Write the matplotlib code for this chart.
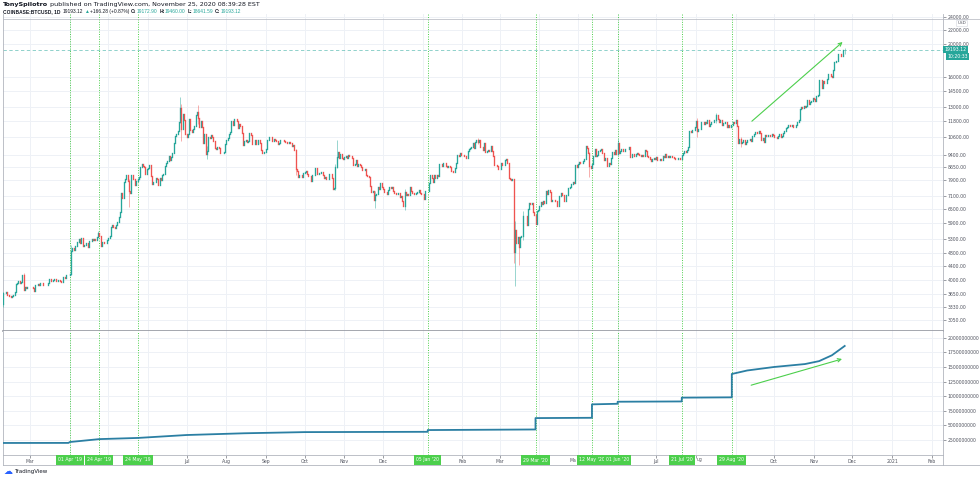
import numpy as np
import pandas as pd
import matplotlib
matplotlib.use('Agg')
import matplotlib.pyplot as plt
import matplotlib.dates as mdates
from matplotlib import font_manager
from matplotlib.ticker import FixedLocator, NullLocator, FuncFormatter
from matplotlib.transforms import blended_transform_factory
from matplotlib.lines import Line2D

plt.rcParams['font.family'] = ['DejaVu Sans']

# COINBASE:BTCUSD daily closes (open = previous close)
start_day = '2019-02-08'
first_open = 3400
close_feb19 = [3660, 3670, 3690, 3610, 3620, 3600, 3580, 3600, 3620, 3680,
               3900, 3930, 3970, 3930, 3960, 4140, 3740, 3820, 3800, 3810,
               3820]
close_mar19 = [3820, 3830, 3800, 3720, 3870, 3880, 3890, 3870, 3930, 3920,
               3870, 3880, 3870, 3880, 3920, 4020, 3990, 3980, 4010, 4040,
               3980, 3990, 4000, 3990, 3940, 3960, 4080, 4060, 4140, 4150,
               4150]
close_apr19 = [4160, 4880, 4970, 4920, 5040, 5050, 5200, 5280, 5170, 5330,
               5040, 5070, 5070, 5160, 5030, 5240, 5240, 5280, 5270, 5310,
               5270, 5380, 5520, 5400, 5060, 5200, 5190, 5160, 5140, 5260]
close_may19 = [5320, 5400, 5750, 5830, 5760, 5720, 5840, 5940, 6150, 6350,
               7250, 6990, 7810, 7990, 8200, 7880, 7350, 7260, 8190, 7990,
               7950, 7630, 7880, 7990, 8050, 8670, 8810, 8720, 8660, 8270,
               8550]
close_jun19 = [8560, 8740, 8120, 7680, 7790, 7810, 8000, 7950, 7630, 8020,
               7920, 8170, 8230, 8700, 8860, 8990, 9320, 9080, 9270, 9530,
               10200, 10700, 10850, 11010, 11770, 12930, 11160, 12370, 11870, 10820]
close_jul19 = [10580, 10800, 11980, 11150, 10980, 11230, 11450, 12290, 12560, 12100,
               11340, 11800, 11370, 10200, 10850, 9430, 9670, 10630, 10530, 10760,
               10590, 10320, 9850, 9770, 9880, 9840, 9480, 9530, 9520, 9590,
               10080]
close_aug19 = [10400, 10530, 10820, 10980, 11800, 11470, 11980, 11980, 11860, 11290,
               11560, 11390, 10860, 10020, 10300, 10360, 10230, 10350, 10920, 10760,
               10140, 10130, 10400, 10140, 10140, 10370, 10190, 9710, 9500, 9590,
               9600]
close_sep19 = [9760, 10380, 10620, 10590, 10580, 10330, 10490, 10400, 10310, 10110,
               10160, 10420, 10360, 10360, 10310, 10260, 10190, 10160, 10270, 10170,
               9980, 10030, 9690, 8530, 8430, 8060, 8180, 8200, 8050, 8300]
close_oct19 = [8330, 8390, 8230, 8150, 8140, 7860, 8210, 8180, 8590, 8590,
               8270, 8300, 8280, 8350, 8160, 8000, 8080, 7960, 7960, 8230,
               8220, 8020, 7430, 7470, 8660, 9260, 9550, 9220, 9430, 9170,
               9150]
close_nov19 = [9250, 9300, 9200, 9400, 9320, 9340, 9200, 8780, 8810, 9040,
               8720, 8820, 8760, 8640, 8470, 8490, 8500, 8170, 8120, 8080,
               7620, 7280, 7330, 6900, 7140, 7180, 7520, 7440, 7760, 7570]
close_dec19 = [7420, 7310, 7300, 7200, 7400, 7540, 7510, 7530, 7350, 7230,
               7200, 7190, 7260, 7070, 7120, 6880, 6620, 7280, 7150, 7190,
               7140, 7520, 7320, 7250, 7200, 7200, 7250, 7310, 7390, 7220,
               7170]
close_jan20 = [7180, 6950, 7340, 7350, 7360, 7760, 8160, 8040, 7820, 8180,
               8020, 8180, 8110, 8810, 8820, 8720, 8900, 8910, 8700, 8630,
               8730, 8660, 8390, 8440, 8330, 8600, 8900, 9390, 9290, 9500,
               9350]
close_feb20 = [9380, 9330, 9290, 9180, 9620, 9760, 9810, 9910, 10170, 9850,
               10280, 10360, 10240, 10370, 9900, 9930, 9700, 10180, 9600, 9610,
               9690, 9670, 9960, 9660, 9310, 8790, 8790, 8690, 8540]
close_mar20 = [8530, 8910, 8760, 8760, 9070, 9160, 8900, 8040, 7940, 7890,
               7940, 4860, 5620, 5170, 5370, 5030, 5360, 5410, 6190, 6200,
               6190, 5810, 6490, 6770, 6700, 6750, 6370, 6250, 5880, 6410,
               6430]
close_apr20 = [6640, 6810, 6740, 6870, 6780, 7340, 7200, 7370, 7300, 6870,
               6890, 6920, 6850, 6860, 6630, 7120, 7100, 7260, 7130, 6850,
               6860, 7130, 7490, 7510, 7540, 7700, 7790, 7760, 8780, 8620]
close_may20 = [8830, 8970, 8900, 8880, 9030, 9150, 9990, 9810, 9540, 8730,
               8570, 8820, 9310, 9790, 9310, 9380, 9670, 9730, 9780, 9510,
               9060, 9170, 9180, 8720, 8900, 8840, 9200, 9570, 9430, 9700,
               9450]
close_jun20 = [10200, 9520, 9660, 9800, 9620, 9670, 9760, 9780, 9770, 9880,
               9270, 9460, 9470, 9340, 9430, 9520, 9460, 9390, 9300, 9360,
               9290, 9680, 9630, 9290, 9250, 9160, 9010, 9120, 9190, 9140]
close_jul20 = [9230, 9090, 9060, 9130, 9080, 9340, 9250, 9430, 9240, 9290,
               9230, 9300, 9240, 9250, 9190, 9130, 9150, 9170, 9210, 9160,
               9390, 9540, 9610, 9550, 9710, 9930, 11030, 10940, 11110, 11110,
               11350]
close_aug20 = [11800, 11070, 11230, 11190, 11750, 11780, 11600, 11760, 11680, 11880,
               11410, 11580, 11780, 11770, 11870, 11910, 12300, 11970, 11740, 11870,
               11520, 11680, 11650, 11750, 11330, 11470, 11330, 11540, 11480, 11710,
               11660]
close_sep20 = [11930, 11390, 10170, 10470, 10170, 10260, 10370, 10130, 10240, 10360,
               10400, 10440, 10330, 10680, 10790, 10960, 10940, 10930, 11080, 10920,
               10420, 10530, 10240, 10740, 10690, 10730, 10770, 10700, 10840, 10780]
close_oct20 = [10620, 10570, 10550, 10670, 10790, 10600, 10670, 10920, 11060, 11300,
               11380, 11540, 11430, 11430, 11500, 11320, 11370, 11520, 11750, 11920,
               12820, 12980, 12930, 13120, 13030, 13070, 13650, 13280, 13460, 13560,
               13800]
close_nov20 = [13760, 13550, 14020, 14150, 15590, 15580, 14840, 15480, 15330, 15310,
               15700, 16290, 16320, 16070, 15960, 16730, 17660, 17800, 17820, 18680,
               18710, 18430, 18370, 19172.90, 19193.12]

# days with visible wicks
wick_days = ['2019-02-08', '2019-02-24', '2019-04-02', '2019-04-23', '2019-05-17',
             '2019-06-26', '2019-06-27', '2019-07-10', '2019-07-17', '2019-09-24',
             '2019-10-25', '2019-10-26', '2019-11-25', '2019-12-18', '2020-02-13',
             '2020-03-12', '2020-03-13', '2020-03-16', '2020-03-19', '2020-05-10',
             '2020-06-01', '2020-08-02', '2020-08-17', '2020-09-05', '2020-11-25']
wick_highs = [3700, 4200, 5100, 5600, 7950, 13880, 13300, 13200, 9950, 9800,
              8800, 10400, 7350, 7450, 10500, 7970, 6000, 5380, 6400, 9600,
              10440, 12100, 12470, 10600, 19460]
wick_lows = [3330, 3740, 4150, 5360, 6600, 11650, 10300, 11600, 9100, 8200,
             7400, 8600, 6520, 6440, 10100, 4500, 3850, 4450, 5250, 8100,
             9420, 10600, 11700, 9880, 18641.59]

# lower pane line
flow_days = ['2019-02-08', '2019-03-31', '2019-04-01', '2019-04-24', '2019-05-24',
             '2019-07-01', '2019-08-15', '2019-10-01', '2020-01-05', '2020-01-05',
             '2020-03-29', '2020-03-29', '2020-05-12', '2020-05-12', '2020-06-01',
             '2020-06-01', '2020-07-21', '2020-07-21', '2020-08-29', '2020-08-29',
             '2020-09-10', '2020-10-01', '2020-10-25', '2020-11-05', '2020-11-15',
             '2020-11-25']
flow_values = [1.99e9, 2.0e9, 2.15e9, 2.65e9, 2.85e9,
               3.35e9, 3.65e9, 3.85e9, 3.9e9, 4.2e9,
               4.3e9, 6.25e9, 6.3e9, 8.6e9, 8.7e9,
               9.05e9, 9.1e9, 9.75e9, 9.8e9, 13.8e9,
               14.4e9, 15.0e9, 15.5e9, 16.0e9, 17.0e9,
               18.6e9]

event_days = ['2019-04-01', '2019-04-24', '2019-05-24', '2020-01-05', '2020-03-29',
              '2020-05-12', '2020-06-01', '2020-07-21', '2020-08-29']
event_labels = ["01 Apr '19", "24 Apr '19", "24 May '19", "05 Jan '20", "29 Mar '20",
                "12 May '20", "01 Jun '20", "21 Jul '20", "29 Aug '20"]

price_ticks = [3050, 3330, 3650, 4000, 4400, 4800, 5300, 5900, 6500, 7100, 7900,
               8650, 9400, 10600, 11800, 13000, 14500, 16000, 20000, 22000, 24000]
flow_ticks = [2500000000, 5000000000, 7500000000, 10000000000, 12500000000,
              15000000000, 17500000000, 20000000000]

last_price = 19193.12
countdown = '10:20:33'

# trend arrows (start, end)
arrow_top = [('2020-09-12', 11660), ('2020-11-25', 20500)]
arrow_bottom = [('2020-09-11', 11.75e9), ('2020-11-25', 16.5e9)]

UP = '#26a69a'
DOWN = '#ef5350'
GREEN = '#4ccf4c'
GRID = '#eef1f6'
TXT = '#50535e'
FRAME = '#b2b5be'

W, H = 980, 480


def has_font(name):
    try:
        font_manager.findfont(name, fallback_to_default=False)
        return True
    except ValueError:
        return False


regular = 'Liberation Sans' if has_font('Liberation Sans') else 'DejaVu Sans'


def box(x0, y0, x1, y1):
    return [x0 / W, 1 - y1 / H, (x1 - x0) / W, (y1 - y0) / H]


fig = plt.figure(figsize=(W / 100, H / 100), dpi=100)
ax1 = fig.add_axes(box(3, 14, 943, 331))
ax2 = fig.add_axes(box(3, 331, 943, 455), sharex=ax1)

closes = (close_feb19 + close_mar19 + close_apr19 + close_may19 + close_jun19 +
          close_jul19 + close_aug19 + close_sep19 + close_oct19 + close_nov19 +
          close_dec19 + close_jan20 + close_feb20 + close_mar20 + close_apr20 +
          close_may20 + close_jun20 + close_jul20 + close_aug20 + close_sep20 +
          close_oct20 + close_nov20)
dates = pd.date_range(start_day, periods=len(closes), freq='D')
x = mdates.date2num(dates)
c = np.array(closes, dtype=float)
o = np.concatenate([[first_open], c[:-1]])
up = c >= o
col = np.where(up, UP, DOWN)

# wicks
wx = mdates.date2num(pd.to_datetime(wick_days))
widx = np.searchsorted(x, wx)
ax1.vlines(wx, wick_lows, wick_highs, colors=col[widx], lw=0.6, alpha=0.55, zorder=3)
# bodies
bodies = ax1.vlines(x, np.minimum(o, c), np.maximum(o, c), colors=col, lw=0.95, zorder=4)
bodies.set_capstyle('projecting')

ax1.axhline(last_price, color=UP, lw=0.6, ls=(0, (4, 3)), alpha=0.6, zorder=2)

ax1.set_yscale('log')
ax1.set_ylim(2831, 24495)
ax1.yaxis.set_major_locator(FixedLocator(price_ticks))
ax1.yaxis.set_minor_locator(NullLocator())
ax1.yaxis.set_major_formatter(FuncFormatter(lambda v, p: '%.2f' % v))
ax1.yaxis.set_minor_formatter(FuncFormatter(lambda v, p: ''))
ax1.yaxis.tick_right()

x_left = mdates.date2num(pd.Timestamp('2019-03-01')) - 27 / 1.283
x_right = mdates.date2num(pd.Timestamp('2019-03-01')) + 913 / 1.283
ax1.set_xlim(x_left, x_right)

ax2.plot(pd.to_datetime(flow_days), flow_values, color='#2b7fa3', lw=1.3, zorder=4)
ax2.set_ylim(-0.07e9, 21.16e9)
ax2.yaxis.set_major_locator(FixedLocator(flow_ticks))
ax2.yaxis.set_major_formatter(FuncFormatter(lambda v, p: '%d' % round(v)))
ax2.yaxis.tick_right()

# month ticks; labels hidden where an event box covers them
event_num = mdates.date2num(pd.to_datetime(event_days))


def month_label(v, pos):
    if np.min(np.abs(event_num - v)) <= 12:
        return ''
    d = mdates.num2date(v)
    return str(d.year) if d.month == 1 else d.strftime('%b')


ax2.xaxis.set_major_locator(mdates.MonthLocator())
ax2.xaxis.set_major_formatter(FuncFormatter(month_label))
ax1.tick_params(axis='x', labelbottom=False, length=0)

for ax in (ax1, ax2):
    ax.grid(True, color=GRID, lw=0.7, zorder=0)
    ax.set_axisbelow(True)
    ax.tick_params(axis='y', labelsize=3.3, colors=TXT, length=2, width=0.4, pad=1.5)
    for s in ax.spines.values():
        s.set_color(FRAME)
        s.set_linewidth(0.6)
    for d in event_days:
        ax.axvline(pd.Timestamp(d), color=GREEN, lw=0.7, ls=(0, (1, 1.5)), zorder=1)
ax1.spines['top'].set_visible(False)
ax2.spines['top'].set_visible(False)
ax1.spines['bottom'].set_linewidth(1.2)
ax1.spines['bottom'].set_color('#9598a1')
ax2.tick_params(axis='x', labelsize=3.3, colors=TXT, length=2, width=0.4, pad=1.0)

# arrows
ax1.annotate('', xy=(pd.Timestamp(arrow_top[1][0]), arrow_top[1][1]),
             xytext=(pd.Timestamp(arrow_top[0][0]), arrow_top[0][1]),
             arrowprops=dict(arrowstyle='->', color=GREEN, lw=0.8, mutation_scale=6))
ax2.annotate('', xy=(pd.Timestamp(arrow_bottom[1][0]), arrow_bottom[1][1]),
             xytext=(pd.Timestamp(arrow_bottom[0][0]), arrow_bottom[0][1]),
             arrowprops=dict(arrowstyle='->', color=GREEN, lw=0.8, mutation_scale=6))

# event labels on the time axis
for d, lab in zip(event_days, event_labels):
    ax2.annotate(lab, xy=(pd.Timestamp(d), 0), xycoords=('data', 'axes fraction'),
                 xytext=(0, -3.6), textcoords='offset points', ha='center', va='center',
                 fontsize=3.3, color='white', annotation_clip=False, zorder=10,
                 bbox=dict(boxstyle='square,pad=0.45', fc=GREEN, ec='none'))

# month names partly hidden by the boxes
ax2.annotate('Ma', xy=(pd.Timestamp('2020-05-12'), 0), xycoords=('data', 'axes fraction'),
             xytext=(-11.5, -3.6), textcoords='offset points', ha='right', va='center',
             fontsize=3.3, color=TXT, annotation_clip=False)
ax2.annotate('ug', xy=(pd.Timestamp('2020-07-21'), 0), xycoords=('data', 'axes fraction'),
             xytext=(11, -3.6), textcoords='offset points', ha='left', va='center',
             fontsize=3.3, color=TXT, annotation_clip=False)

# last price label
tr = blended_transform_factory(ax1.transAxes, ax1.transData)
ax1.text(1.0015, last_price, '%.2f' % last_price, transform=tr, fontsize=3.3,
         color='white', va='center', ha='left', zorder=10,
         bbox=dict(boxstyle='square,pad=0.25', fc=UP, ec='none'))
ax1.annotate(countdown, xy=(1.0, last_price), xycoords=tr, xytext=(3.2, -5.0),
             textcoords='offset points', fontsize=3.3, color='white', va='center',
             ha='left', zorder=10, annotation_clip=False,
             bbox=dict(boxstyle='square,pad=0.25', fc=UP, ec='none'))
fig.text(962 / W, 1 - 23.5 / H, 'USD', fontsize=3.0, color=TXT, ha='center', va='center',
         bbox=dict(boxstyle='round,pad=0.3', fc='white', ec='#d1d4dc', lw=0.4))

# outer frame of the time axis
fig.add_artist(Line2D([3 / W, 980 / W], [1 - 465 / H, 1 - 465 / H], color=FRAME, lw=0.6))
fig.add_artist(Line2D([3 / W, 3 / W], [1 - 465 / H, 1 - 455 / H], color=FRAME, lw=0.6))
fig.add_artist(Line2D([943 / W, 943 / W], [1 - 465 / H, 1 - 455 / H], color=FRAME, lw=0.6))
fig.add_artist(Line2D([3 / W, 980 / W], [1 - 19 / H, 1 - 19 / H], color=FRAME, lw=0.5))

# header
fig.canvas.draw()
rend = fig.canvas.get_renderer()


def chain(parts, x0, y0, x_end, family, size=4.2):
    texts = []
    for s, color, weight, gap in parts:
        t = fig.text(x0 / W, 1 - y0 / H, s, fontsize=size, color=color,
                     fontweight=weight, ha='left', va='center',
                     family=[family, 'DejaVu Sans'])
        texts.append((t, gap))

    def layout(sz):
        xp = x0
        end = x0
        for t, gap in texts:
            t.set_fontsize(sz)
            t.set_x(xp / W)
            end = t.get_window_extent(renderer=rend).x1
            xp = end + gap * sz / 4.2
        return end

    end = layout(size)
    layout(size * (x_end - x0) / (end - x0))


chain([('TonySpilotro', '#131722', 'bold', 2),
       ('published on TradingView.com, November 25, 2020 08:39:28 EST', '#131722', 'normal', 0)],
      3, 4.5, 262, 'DejaVu Sans')
chain([('COINBASE:BTCUSD, 1D', '#131722', 'bold', 2),
       ('19193.12', '#131722', 'normal', 1.5),
       ('\u25b2', UP, 'normal', 1.5),
       ('+166.28 (+0.87%)', '#131722', 'normal', 2),
       ('O:', '#131722', 'bold', 0.5), ('19172.90', UP, 'normal', 2),
       ('H:', '#131722', 'bold', 0.5), ('19460.00', UP, 'normal', 2),
       ('L:', '#131722', 'bold', 0.5), ('18641.59', UP, 'normal', 2),
       ('C:', '#131722', 'bold', 0.5), ('19193.12', UP, 'normal', 0)],
      3, 11.5, 240, regular)

# footer logo
fig.text(4 / W, 1 - 472 / H, '\u2601', fontsize=6.5, color='#2962ff', ha='left', va='center')
fig.text(14 / W, 1 - 472 / H, 'TradingView', fontsize=4.0, color='#131722',
         ha='left', va='center')

fig.savefig('out.png', dpi=100)
